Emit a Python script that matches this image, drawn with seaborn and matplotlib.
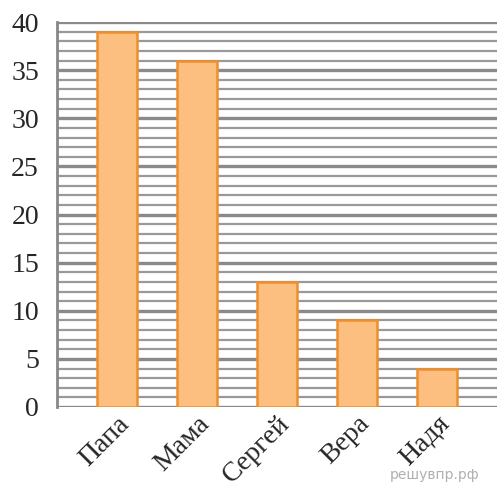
import matplotlib
matplotlib.use('Agg')
import matplotlib.pyplot as plt
import pandas as pd
import seaborn as sns

# chart data
names = ['Папа', 'Мама', 'Сергей', 'Вера', 'Надя']
values = [39, 36, 13, 9, 4]

df = pd.DataFrame({'name': names, 'value': values})

sns.set_style('white')
plt.rcParams['font.family'] = ['Liberation Serif', 'DejaVu Serif']

fig = plt.figure(figsize=(4.97, 4.88), dpi=100)
ax = fig.add_axes([57 / 497, 81 / 488, 440 / 497, 385 / 488])

sns.barplot(data=df, x='name', y='value', color='#fdbf80', edgecolor='#ee8f2c',
            linewidth=1.8, width=0.5, saturation=1, ax=ax, zorder=3)

ax.set_xlim(-0.75, 4.75)
ax.set_ylim(0, 40)
ax.set_yticks(range(0, 41, 5))
ax.set_yticks(range(0, 41), minor=True)
ax.yaxis.grid(True, which='minor', color='#999999', linewidth=1.6, zorder=0)
ax.yaxis.grid(True, which='major', color='#8a8a8a', linewidth=2.4, zorder=0)
ax.set_axisbelow(True)
ax.tick_params(axis='y', which='both', direction='out', length=11, width=1.6,
               color='#999999', labelsize=20, pad=1)
ax.tick_params(axis='y', which='major', length=12, width=2.4, color='#8a8a8a')
ax.tick_params(axis='x', length=0, labelsize=20, pad=3)
for lbl in ax.get_xticklabels():
    lbl.set_rotation(45)
    lbl.set_ha('right')
    lbl.set_rotation_mode('anchor')

ax.set_xlabel('')
ax.set_ylabel('')
for s in ['top', 'right', 'bottom']:
    ax.spines[s].set_visible(False)
ax.spines['left'].set_color('#888888')
ax.spines['left'].set_linewidth(2)

fig.text(0.965, 0.012, 'решувпр.рф', ha='right', va='bottom', fontsize=10,
         color='#b0b0b0', family='DejaVu Sans')

fig.savefig('out.png', dpi=100)
